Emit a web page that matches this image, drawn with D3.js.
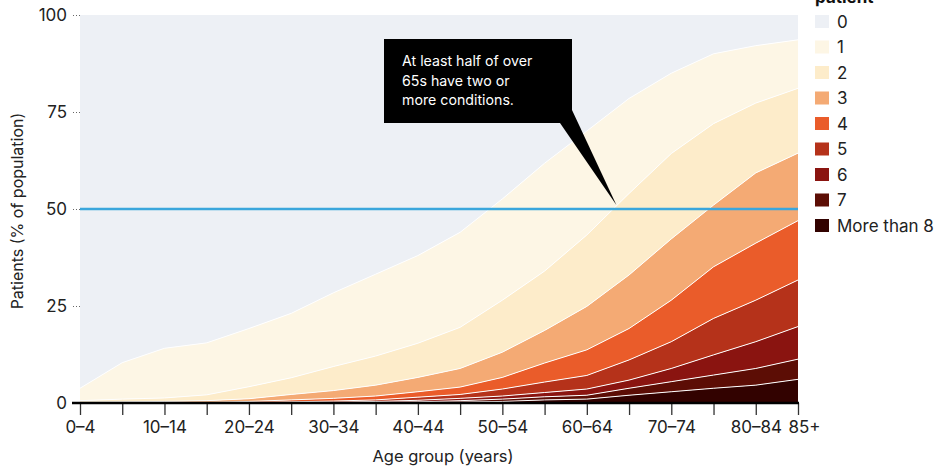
<!DOCTYPE html>
<html>
<head>
<meta charset="utf-8">
<script src="https://cdn.jsdelivr.net/npm/d3@7"></script>
<style>
  html, body { margin: 0; padding: 0; background: #fff; }
  svg { display: block; font-family: "Inter", "Roboto", sans-serif; }
</style>
</head>
<body>
<svg id="chart" width="947" height="467"></svg>
<script>
// ---- Data ----
const categories = ["0–4","5–9","10–14","15–19","20–24","25–29","30–34","35–39","40–44","45–49","50–54","55–59","60–64","65–69","70–74","75–79","80–84","85+"];
const tickLabels = ["0–4","10–14","20–24","30–34","40–44","50–54","60–64","70–74","80–84","85+"];
const yTicks = [0, 25, 50, 75, 100];
const seriesKeys = ["More than 8","7","6","5","4","3","2","1","0"];
// share of population (%) with each number of conditions
const cond8plus = [0,0,0,0,0.01,0.02,0.05,0.1,0.15,0.25,0.4,0.8,1.0,2.0,2.9,3.8,4.6,6.1];
const cond7 = [0,0,0.01,0.01,0.01,0.03,0.05,0.1,0.15,0.35,0.6,0.8,1.0,1.8,2.6,3.4,4.3,5.2];
const cond6 = [0.01,0.01,0.01,0.02,0.04,0.05,0.1,0.2,0.4,0.6,0.8,1.1,1.6,2.1,3.4,5.2,6.9,8.4];
const cond5 = [0.01,0.02,0.03,0.05,0.09,0.2,0.3,0.4,0.8,1.0,1.8,2.7,3.5,5.2,6.9,9.4,10.7,12.0];
const cond4 = [0.03,0.07,0.05,0.07,0.25,0.5,0.7,1.0,1.4,1.9,3.0,4.9,6.6,8.1,10.7,13.3,14.7,15.3];
const cond3 = [0.15,0.2,0.3,0.45,0.7,1.4,2.0,2.8,3.7,4.8,6.5,8.4,11.2,13.8,15.8,15.9,18.1,17.4];
const cond2 = [0.4,0.7,0.9,1.5,3.1,4.3,6.2,7.5,8.8,10.6,13.4,15.3,18.4,21.0,22.0,21.0,18.0,16.7];
const cond1 = [3.2,9.4,12.8,13.4,15.0,16.6,19.0,21.1,22.6,24.5,26.1,27.8,26.8,24.5,20.7,18.0,14.8,12.5];
const cond0 = [96.2,89.6,85.9,84.5,80.8,76.9,71.6,66.8,62.0,56.0,47.4,38.2,29.9,21.5,15.0,10.0,7.9,6.4];
const seriesValues = [cond8plus, cond7, cond6, cond5, cond4, cond3, cond2, cond1, cond0];
const colors = ["#320200","#5c0d05","#8a1410","#b5321a","#ea5c2a","#f4aa74","#fdecca","#fdf6e5","#edf0f5"];
const legendOrder = ["0","1","2","3","4","5","6","7","More than 8"];
const referenceValue = 50;
const annotationLines = ["At least half of over", "65s have two or", "more conditions."];

(function () {
// ---- Build table ----
const table = categories.map((c, i) => {
  const row = { cat: c };
  seriesKeys.forEach((k, j) => { row[k] = seriesValues[j][i]; });
  return row;
});

const svg = d3.select("#chart");
const mLeft = 80, mRight = 798, mTop = 15, mBottom = 403;

const x = d3.scalePoint().domain(categories).range([mLeft, mRight]);
const y = d3.scaleLinear().domain([0, 100]).range([mBottom, mTop]);
const color = d3.scaleOrdinal().domain(seriesKeys).range(colors);

const stacked = d3.stack().keys(seriesKeys)(table);

const area = d3.area()
  .x(d => x(d.data.cat))
  .y0(d => y(d[0]))
  .y1(d => y(d[1]));

svg.append("g").selectAll("path")
  .data(stacked)
  .join("path")
  .attr("d", area)
  .attr("fill", d => color(d.key));

// white separator lines on top of each layer (except top)
const line = d3.line().x(d => x(d.data.cat)).y(d => y(d[1]));
svg.append("g").selectAll("path")
  .data(stacked.slice(0, stacked.length - 1))
  .join("path")
  .attr("d", line)
  .attr("fill", "none")
  .attr("stroke", "#fff")
  .attr("stroke-width", 1);

// reference line at 50%
svg.append("line")
  .attr("x1", mLeft).attr("x2", mRight)
  .attr("y1", y(referenceValue)).attr("y2", y(referenceValue))
  .attr("stroke", "#3aa6dc").attr("stroke-width", 2.5);

// ---- Y axis ----
const yAxis = d3.axisLeft(y).tickValues(yTicks).tickSize(9).tickPadding(4);
const gy = svg.append("g").attr("transform", `translate(${mLeft},0)`).call(yAxis);
gy.select(".domain").remove();
gy.selectAll(".tick line").attr("stroke", "#666").attr("stroke-dasharray", "1,2").attr("stroke-width", 1);
gy.selectAll(".tick text").attr("font-size", 17).attr("fill", "#222").attr("font-family", "Inter, Roboto, sans-serif");

svg.append("text")
  .attr("transform", `translate(23,${(mTop + mBottom) / 2 + 2}) rotate(-90)`)
  .attr("text-anchor", "middle")
  .attr("font-size", 16).attr("fill", "#222")
  .text("Patients (% of population)");

// ---- X axis ----
const xAxis = d3.axisBottom(x).tickSize(12).tickPadding(6)
  .tickFormat(d => tickLabels.includes(d) ? d : "");
const gx = svg.append("g").attr("transform", `translate(0,${mBottom})`).call(xAxis);
gx.select(".domain").remove();
gx.selectAll(".tick line").attr("stroke", "#333").attr("stroke-width", 1.3);
gx.selectAll(".tick text").attr("font-size", 17).attr("fill", "#222").attr("font-family", "Inter, Roboto, sans-serif");
gx.selectAll(".tick text").filter(d => d === categories[categories.length - 1]).attr("dx", 6);
svg.append("line")
  .attr("x1", mLeft - 8).attr("x2", mRight + 1)
  .attr("y1", mBottom).attr("y2", mBottom)
  .attr("stroke", "#000").attr("stroke-width", 2.5);

svg.append("text")
  .attr("x", 443).attr("y", 462)
  .attr("text-anchor", "middle")
  .attr("font-size", 16.5).attr("fill", "#222")
  .text("Age group (years)");

// ---- Annotation ----
const tipX = x(categories[12]) + 0.7 * x.step();
const tipY = y(51);
const boxX = 384, boxY = 39, boxW = 188, boxH = 84;
svg.append("path")
  .attr("d", `M${boxX + boxW - 12},${boxY + boxH} L${boxX + boxW},${boxY + boxH - 13} L${tipX},${tipY} Z`)
  .attr("fill", "#000");
svg.append("rect")
  .attr("x", boxX).attr("y", boxY).attr("width", boxW).attr("height", boxH)
  .attr("fill", "#000");
svg.append("text")
  .attr("x", boxX + 18).attr("y", boxY + 27)
  .attr("font-size", 14.2).attr("fill", "#fff")
  .attr("font-family", "Inter, Roboto, sans-serif")
  .selectAll("tspan").data(annotationLines).join("tspan")
  .attr("x", boxX + 18).attr("dy", (d, i) => i === 0 ? 0 : 19.5)
  .text(d => d);

// ---- Legend ----
const lg = svg.append("g").attr("transform", "translate(815,0)");
lg.append("text").attr("x", 0).attr("y", 2.5).attr("font-size", 17).attr("font-weight", "bold").attr("fill", "#111").text("patient");
const items = lg.selectAll("g.item").data(legendOrder).join("g")
  .attr("class", "item")
  .attr("transform", (d, i) => `translate(0,${15 + i * 25.5})`);
items.append("rect").attr("width", 14).attr("height", 13).attr("fill", d => color(d));
items.append("text").attr("x", 22).attr("y", 12.5)
  .attr("font-size", 17).attr("fill", "#222").text(d => d);
})();
</script>
</body>
</html>
